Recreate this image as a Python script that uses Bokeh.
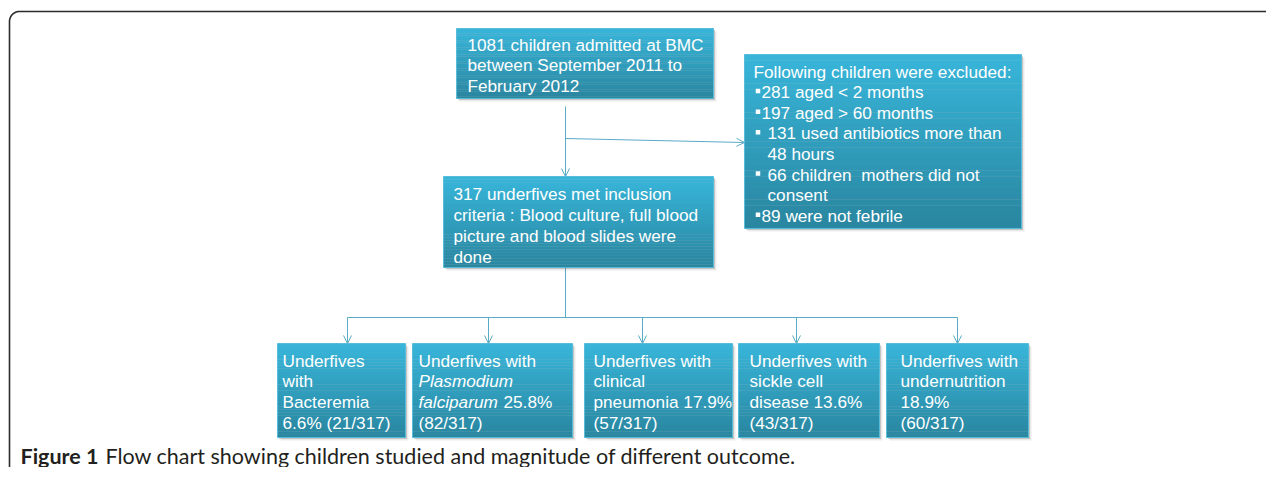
from bokeh.plotting import figure
from bokeh.models import Range1d, Arrow, OpenHead
from bokeh.core.properties import value
from bokeh.embed import file_html
from bokeh.resources import INLINE
import numpy as np

# ---------------- data ----------------
admitted = 1081
period = ("September 2011", "February 2012")
excl_counts = [281, 197, 131, 66, 89]
included = 317
outcome_pct = [6.6, 25.8, 17.9, 13.6, 18.9]
outcome_n = [21, 82, 57, 43, 60]
caption_bold = "Figure 1"
caption_rest = "Flow chart showing children studied and magnitude of different outcome."

# ---------------- layout (pixel coordinates) ----------------
W, H = 1266, 467
p = figure(width=W, height=H, x_range=Range1d(0, W), y_range=Range1d(H, 0),
           output_backend="svg", toolbar_location=None, min_border=0)
p.axis.visible = False
p.grid.visible = False
p.outline_line_color = None
p.background_fill_color = "white"

FONT = value("Liberation Sans")
FS = "17.2px"
TOP_C = np.array([0x38, 0xB5, 0xD9])
BOT_C = np.array([0x2A, 0x87, 0xA1])
LINE_C = "#5AABC6"

# outer rounded frame
r = 10
t = np.linspace(np.pi, 1.5 * np.pi, 20)
fx = [9.0] + list(9 + r + r * np.cos(t)) + [1300.0]
fy = [490.0] + list(11 + r + r * np.sin(t)) + [11.0]
p.line(fx, fy, line_color="#2b2b2b", line_width=1.6)


def box(x0, y0, x1, y1):
    for off, a in ((1.5, 0.25), (3, 0.12)):
        p.quad(left=[x0 + off], right=[x1 + off], top=[y0 + off], bottom=[y1 + off],
               fill_color="#555555", fill_alpha=a, line_color=None)
    n = 30
    edges = np.linspace(y0, y1, n + 1)
    cols = []
    for i in range(n):
        f = i / (n - 1)
        c = (TOP_C * (1 - f) + BOT_C * f).astype(int)
        cols.append("#%02x%02x%02x" % tuple(c))
    p.quad(left=[x0] * n, right=[x1] * n, top=list(edges[:-1]), bottom=list(edges[1:] + 0.3),
           fill_color=cols, line_color=None)
    p.quad(left=[x0], right=[x1], top=[y0], bottom=[y1], fill_color=None,
           line_color="#57BCD9", line_width=1)


def lines(x, y0, dy, texts, style="normal"):
    ys = [y0 + dy * i for i in range(len(texts))]
    p.text(x=[x] * len(texts), y=ys, text=texts, text_font=FONT, text_font_size=FS,
           text_color="white", text_baseline="middle", text_font_style=style)


def arrow(xs, ys, xe, ye):
    p.add_layout(Arrow(end=OpenHead(size=8, line_color=LINE_C, line_width=1),
                       x_start=xs, y_start=ys, x_end=xe, y_end=ye,
                       line_color=LINE_C, line_width=1))

# connectors
arrow(565, 106, 565, 176)
arrow(565, 138, 744, 142)
p.line([565, 565], [267, 317], line_color=LINE_C, line_width=1)
drops = [347, 488, 642, 796, 957]
p.line([drops[0], drops[-1]], [317, 317], line_color=LINE_C, line_width=1)
for xd in drops:
    arrow(xd, 317, xd, 343)

# box 1
box(456, 28, 713, 98)
lines(467, 44, 20.8, [f"{admitted} children admitted at BMC",
                      f"between {period[0]} to",
                      period[1]])

# box 2 (exclusions)
box(744, 54, 1021, 228)
ex_lines = ["Following children were excluded:",
            f"{excl_counts[0]} aged < 2 months",
            f"{excl_counts[1]} aged > 60 months",
            f"{excl_counts[2]} used antibiotics more than",
            "48 hours",
            f"{excl_counts[3]} children\u00a0 mothers did not",
            "consent",
            f"{excl_counts[4]} were not febrile"]
ex_x = [753, 761, 761, 767, 767, 767, 767, 761]
ex_y = [71 + 20.6 * i for i in range(len(ex_lines))]
p.text(x=ex_x, y=ex_y, text=ex_lines, text_font=FONT, text_font_size=FS,
       text_color="white", text_baseline="middle")
bullet_rows = [1, 2, 3, 5, 7]
p.scatter(x=[757.5] * len(bullet_rows), y=[ex_y[i] - 1 for i in bullet_rows], marker="square",
          size=4.5, fill_color="white", line_color=None)

# box 3
box(443, 176, 713, 267)
lines(453, 193, 21, [f"{included} underfives met inclusion",
                     "criteria : Blood culture, full blood",
                     "picture and blood slides were",
                     "done"])

# outcome boxes
bx = [(277, 405), (412, 572), (584, 732), (738, 879), (886, 1028)]
tx = [282, 418, 593, 749, 900]
by0, by1 = 343, 437
ly0, dly = 360, 20.7
for (a, b) in bx:
    box(a, by0, b, by1)

def frac(i):
    return f"({outcome_n[i]}/{included})"

def pc(i):
    return f"{outcome_pct[i]}%"

lines(tx[0], ly0, dly, ["Underfives", "with", "Bacteremia", f"{pc(0)} {frac(0)}"])
lines(tx[1], ly0, dly, ["Underfives with"])
p.text(x=[tx[1], tx[1]], y=[ly0 + dly, ly0 + 2 * dly], text=["Plasmodium", "falciparum"],
       text_font=FONT, text_font_size=FS, text_color="white", text_baseline="middle",
       text_font_style="italic")
p.text(x=[503], y=[ly0 + 2 * dly], text=[pc(1)], text_font=FONT, text_font_size=FS,
       text_color="white", text_baseline="middle")
lines(tx[1], ly0 + 3 * dly, dly, [frac(1)])
lines(tx[2], ly0, dly, ["Underfives with", "clinical", f"pneumonia {pc(2)}", frac(2)])
lines(tx[3], ly0, dly, ["Underfives with", "sickle cell", f"disease {pc(3)}", frac(3)])
lines(tx[4], ly0, dly, ["Underfives with", "undernutrition", pc(4), frac(4)])

# caption
p.text(x=[20], y=[455], text=[caption_bold], text_font=value("Lato"), text_font_size="21.5px",
       text_font_style="bold", text_color="#231f20", text_baseline="middle")
p.text(x=[105], y=[455], text=[caption_rest], text_font=value("Lato"), text_font_size="21.5px",
       text_color="#231f20", text_baseline="middle")

open("out.html", "w").write(file_html(p, INLINE))
